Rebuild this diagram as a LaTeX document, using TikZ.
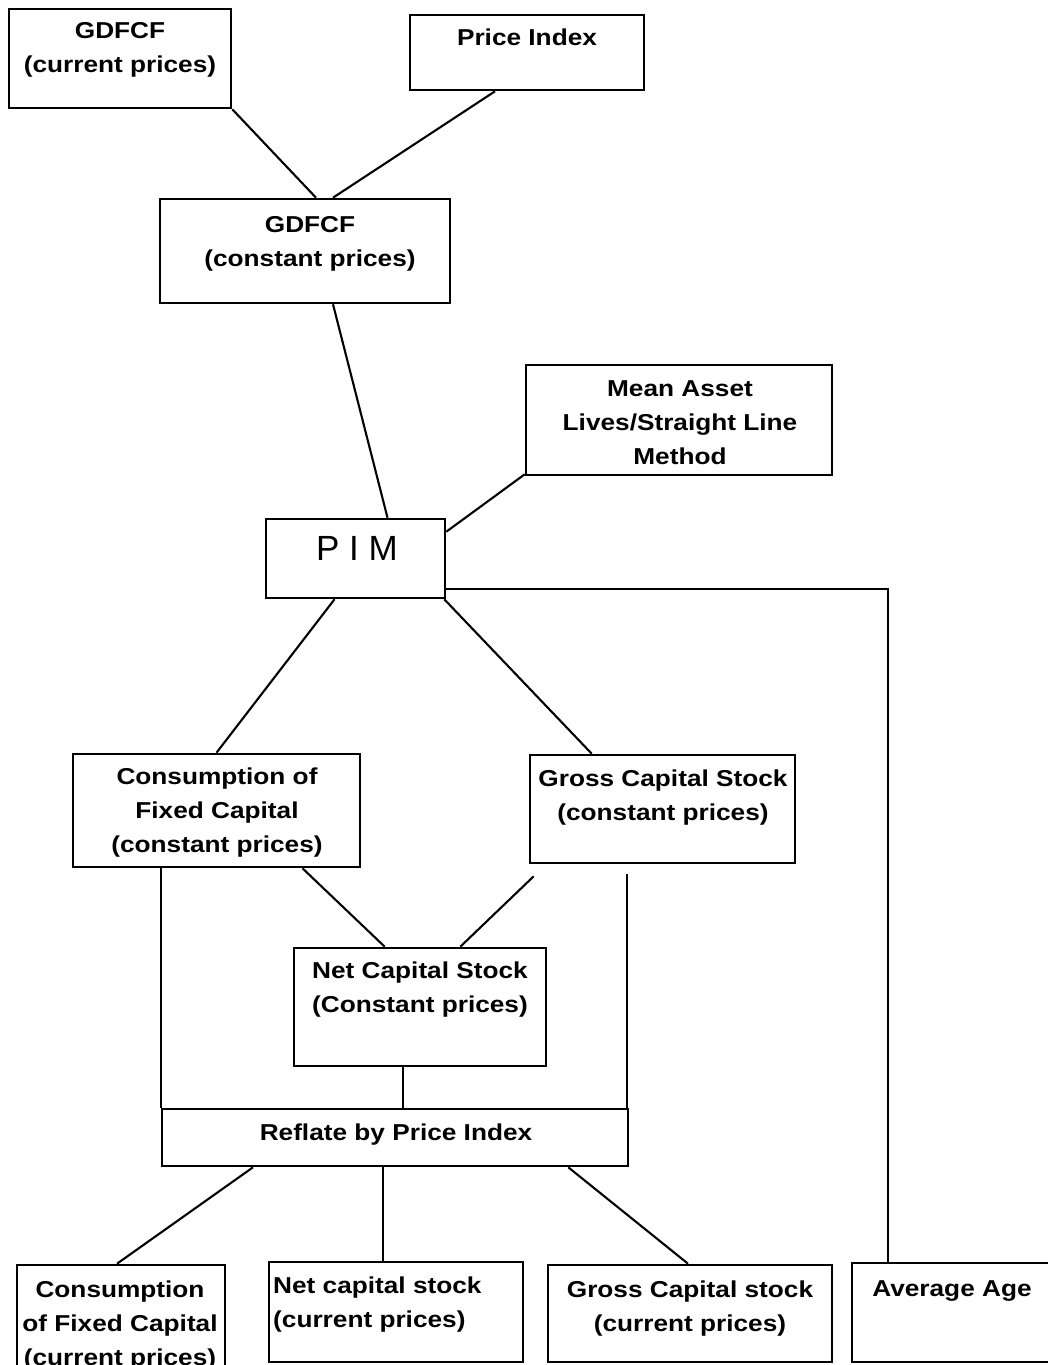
\documentclass[tikz,border=0pt]{standalone}
\usepackage{fontspec}
\setmainfont{Liberation Sans}[FakeStretch=1.14]
\newfontfamily\pimfont{Liberation Sans}
\newcommand{\stk}[2][c]{\begin{tabular}[t]{@{}#1@{}}#2\end{tabular}}
\begin{document}
\begin{tikzpicture}[x=1pt,y=-1pt,
  box/.style={draw, line width=2.6pt, inner sep=0pt},
  txt/.style={anchor=base, inner sep=0pt, font=\bfseries\fontsize{23}{34}\selectfont},
  conn/.style={line width=2.1pt}]
\useasboundingbox (0,0) rectangle (1048,1365);
\clip (0,0) rectangle (1048,1365);
% boxes
\node[box, minimum width=222pt, minimum height=99pt]  (gcur)  at (120,58.5) {};
\node[box, minimum width=234pt, minimum height=75pt]  (price) at (527,52.5) {};
\node[box, minimum width=290pt, minimum height=104pt] (gcon)  at (305,251) {};
\node[box, minimum width=306pt, minimum height=110pt] (mean)  at (679,420) {};
\node[box, minimum width=179pt, minimum height=79pt]  (pim)   at (355.5,558.5) {};
\node[box, minimum width=287pt, minimum height=113pt] (cfc)   at (216.5,810.5) {};
\node[box, minimum width=265pt, minimum height=108pt] (gcs)   at (662.5,809) {};
\node[box, minimum width=252pt, minimum height=118pt] (ncs)   at (420,1007) {};
\node[box, minimum width=466pt, minimum height=57pt]  (refl)  at (395,1137.5) {};
\node[box, minimum width=208pt, minimum height=110pt] (cfcc)  at (121,1320) {};
\node[box, minimum width=254pt, minimum height=100pt] (ncc)   at (396,1312) {};
\node[box, minimum width=284pt, minimum height=97pt]  (gcc)   at (690,1313.5) {};
\node[box, minimum width=203pt, minimum height=99pt]  (avg)   at (953.5,1312.5) {};
% texts
\node[txt] (gcurT)  at (120,38)  {\stk{GDFCF\\(current prices)}};
\node[txt] (priceT) at (527,45)  {Price Index};
\node[txt] (gconT)  at (310,232) {\stk{GDFCF\\(constant prices)}};
\node[txt] (meanT)  at (680,396) {\stk{Mean Asset\\Lives/Straight Line\\Method}};
\node[anchor=base, inner sep=0pt, font=\pimfont\fontsize{35}{40}\selectfont] (pimT) at (357,560) {P I M};
\node[txt] (cfcT)   at (217,784) {\stk{Consumption of\\Fixed Capital\\(constant prices)}};
\node[txt] (gcsT)   at (663,786) {\stk{Gross Capital Stock\\(constant prices)}};
\node[txt] (ncsT)   at (420,978) {\stk{Net Capital Stock\\(Constant prices)}};
\node[txt] (reflT)  at (396,1140) {Reflate by Price Index};
\node[txt] (cfccT)  at (120,1297) {\stk{Consumption\\of Fixed Capital\\(current prices)}};
\node[txt, anchor=base west] (nccT) at (273,1293) {\stk[l]{Net capital stock\\(current prices)}};
\node[txt] (gccT)   at (690,1297) {\stk{Gross Capital stock\\(current prices)}};
\node[txt] (avgT)   at (952,1296) {Average Age};
% connectors
\draw[conn] (gcur.south east) -- ([xshift=11pt]gcon.north);
\draw[conn] ([xshift=-32pt]price.south) -- ([xshift=28pt]gcon.north);
\draw[conn] ([xshift=28pt]gcon.south) -- ([xshift=32pt]pim.north);
\draw[conn] ([yshift=2pt]mean.south west) -- ([yshift=-14pt]pim.north east);
\draw[conn] ([yshift=10pt]pim.south east) -| ([xshift=-65.5pt]avg.north);
\draw[conn] ([xshift=-21pt]pim.south) -- (cfc.north);
\draw[conn] ([xshift=-2pt]pim.south east) -- ([xshift=63pt]gcs.north west);
\draw[conn] ([xshift=86pt]cfc.south) -- ([xshift=92pt]ncs.north west);
\coordinate (gcsfree) at ([xshift=5pt,yshift=-12pt]gcs.south west);
\draw[conn] (gcsfree) -- ([xshift=-87pt]ncs.north east);
\draw[conn] (refl.north west |- cfc.south) -- (refl.north west);
\path (refl.north east |- gcs.south) ++(-2,10) coordinate (gv);
\draw[conn] (gv) -- (gv |- refl.north);
\coordinate (nb) at ([xshift=-17pt]ncs.south);
\draw[conn] (nb) -- (nb |- refl.north);
\draw[conn] ([xshift=-142pt]refl.south) -- ([xshift=-4pt]cfcc.north);
\coordinate (rb) at ([xshift=-12pt]refl.south);
\draw[conn] (rb) -- (rb |- ncc.north);
\draw[conn] ([xshift=-61pt]refl.south east) -- ([xshift=-2pt]gcc.north);
\end{tikzpicture}
\end{document}
